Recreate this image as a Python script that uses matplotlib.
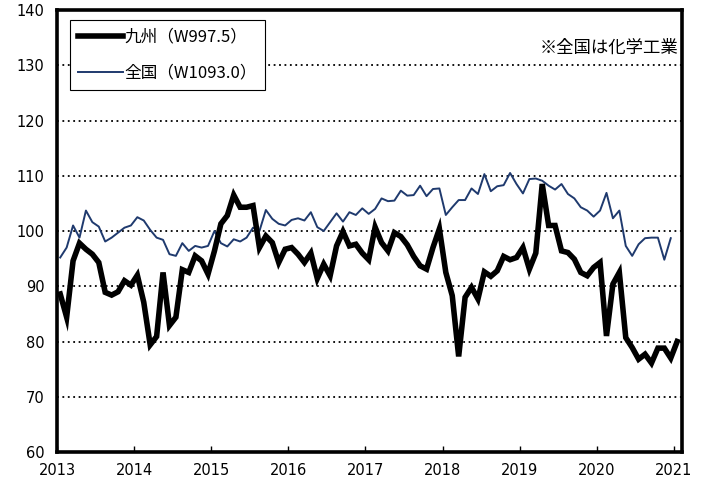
import matplotlib

matplotlib.use("Agg")
import matplotlib.pyplot as plt
import numpy as np

plt.rcParams["font.family"] = ["Noto Sans CJK JP", "DejaVu Sans"]

# monthly index, Jan 2013 onward
kyushu = [
    88.6, 84.4, 94.6, 97.8, 96.7, 95.8, 94.3, 88.9, 88.4, 89.0, 91.0, 90.2,
    92.0, 87.1, 79.4, 80.9, 92.5, 82.9, 84.4, 93.0, 92.5, 95.5, 94.6, 92.2,
    96.4, 101.3, 102.8, 106.5, 104.3, 104.3, 104.6, 97.0, 99.1, 97.9, 94.3, 96.7,
    97.0, 95.8, 94.3, 96.0, 91.4, 94.0, 91.9, 97.3, 99.9, 97.3, 97.6, 96.0,
    94.8, 100.7, 97.9, 96.4, 99.7, 99.0, 97.5, 95.4, 93.7, 93.1, 97.0, 100.4,
    92.5, 88.3, 77.3, 88.0, 89.8, 87.7, 92.6, 91.8, 92.8, 95.4, 94.8, 95.2,
    97.0, 93.1, 96.0, 108.5, 101.0, 101.0, 96.4, 96.1, 94.9, 92.5, 91.9, 93.4,
    94.3, 81.0, 90.4, 92.5, 80.7, 78.9, 76.8, 77.7, 76.1, 78.8, 78.8, 77.0,
    80.0,
]
zenkoku = [
    95.2, 97.0, 101.0, 98.8, 103.7, 101.6, 100.8, 98.1, 98.8, 99.7, 100.6, 101.0,
    102.5, 101.9, 100.2, 98.8, 98.4, 95.8, 95.5, 97.8, 96.4, 97.3, 97.0, 97.3,
    100.0, 97.8, 97.2, 98.5, 98.1, 98.8, 100.6, 100.0, 103.8, 102.2, 101.3, 101.0,
    102.0, 102.3, 101.9, 103.4, 100.7, 100.0, 101.6, 103.2, 101.7, 103.4, 102.9, 104.1,
    103.1, 104.0, 105.9, 105.4, 105.5, 107.3, 106.4, 106.5, 108.2, 106.3, 107.6, 107.7,
    102.9, 104.3, 105.6, 105.6, 107.7, 106.7, 110.3, 107.2, 108.1, 108.3, 110.5, 108.5,
    106.8, 109.4, 109.5, 109.1, 108.2, 107.5, 108.5, 106.7, 105.9, 104.3, 103.7, 102.6,
    103.7, 106.9, 102.3, 103.7, 97.3, 95.5, 97.6, 98.7, 98.8, 98.8, 94.8, 98.7,
]
years = list(range(2013, 2022))
label_kyushu = "九州（W997.5）"
label_zenkoku = "全国（W1093.0）"
note = "※全国は化学工業"

NAVY = "#1f3a6e"

fig = plt.figure(figsize=(7.15, 4.88), dpi=100)
ax = fig.add_axes([57 / 715, 36 / 488, 625 / 715, 442 / 488])

xk = np.arange(len(kyushu)) + 0.5
xz = np.arange(len(zenkoku)) + 0.5
ax.plot(xk, kyushu, color="black", lw=4.0, solid_joinstyle="miter", label=label_kyushu, zorder=3)
ax.plot(xz, zenkoku, color=NAVY, lw=1.4, label=label_zenkoku, zorder=2)

ax.set_xlim(0, 97.25)
ax.set_ylim(60, 140)
ax.set_xticks([12 * i for i in range(len(years))])
ax.set_xticklabels([str(y) for y in years])
ax.set_yticks(range(60, 141, 10))

for y in range(70, 140, 10):
    ax.axhline(y, color="black", lw=1.3, ls=(0, (1, 2)), zorder=1)

for s in ax.spines.values():
    s.set_linewidth(2.6)
    s.set_color("black")

ax.tick_params(axis="x", direction="in", length=4, width=1, pad=8, labelsize=10.5)
ax.tick_params(axis="y", length=0, pad=9, labelsize=10.5)
for lab in ax.get_xticklabels() + ax.get_yticklabels():
    lab.set_fontfamily("DejaVu Sans")

leg = ax.legend(
    loc="upper left",
    bbox_to_anchor=(0.021, 0.977),
    borderaxespad=0,
    fontsize=12,
    handlelength=2.7,
    handletextpad=0.05,
    labelspacing=1.15,
    fancybox=False,
    framealpha=1,
    edgecolor="black",
    borderpad=0.5,
)
leg.get_frame().set_linewidth(0.8)

ax.text(0.995, 0.915, note, transform=ax.transAxes, ha="right", va="center", fontsize=12.5)

fig.savefig("out.png", dpi=100)
